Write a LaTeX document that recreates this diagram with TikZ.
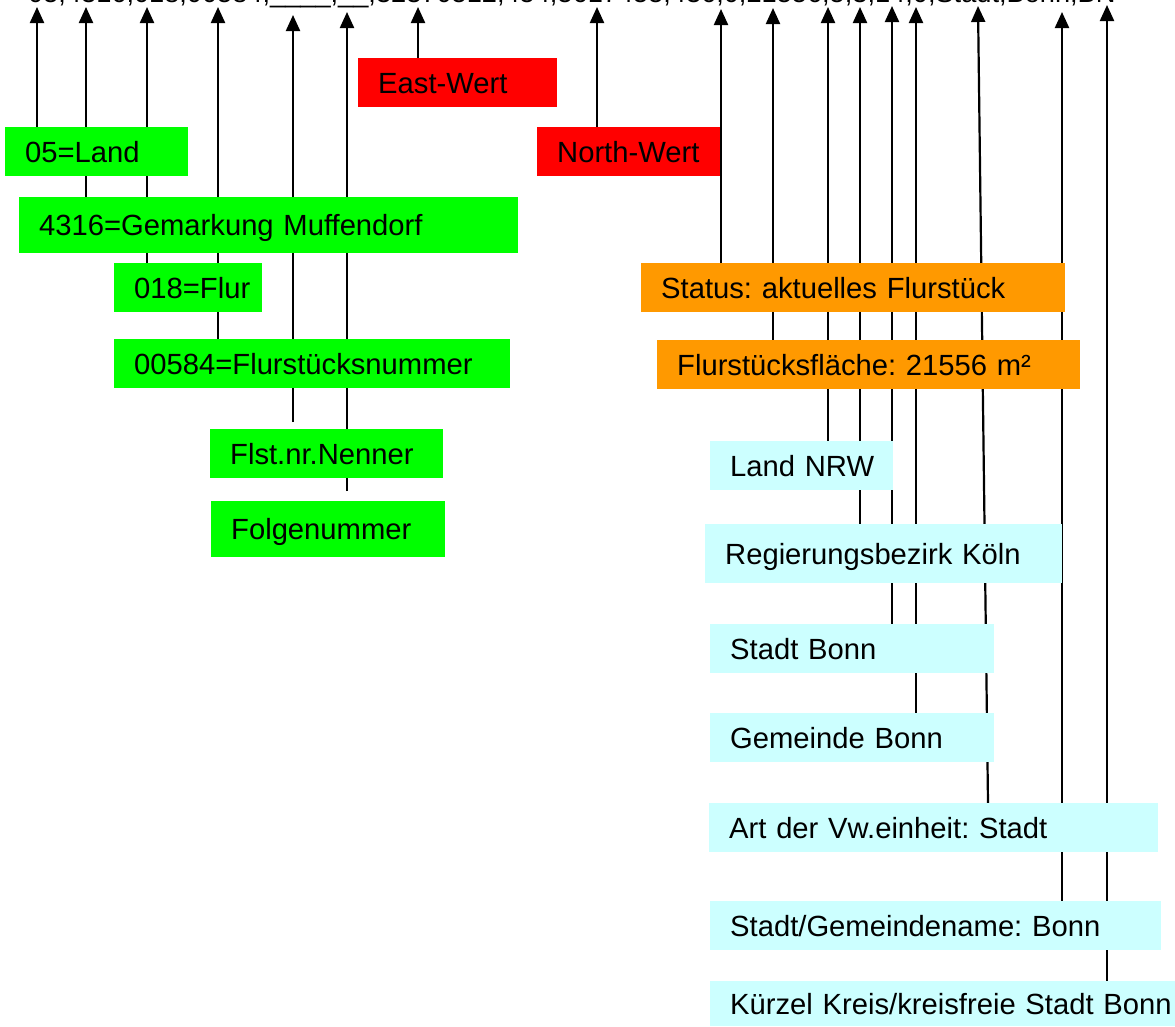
\documentclass[tikz,border=0pt]{standalone}
\usepackage{fontspec}
\setmainfont{Liberation Sans}
\usetikzlibrary{arrows.meta, backgrounds}
\frenchspacing

\definecolor{orangefeld}{HTML}{FF9900}
\definecolor{cyanfeld}{HTML}{CCFFFF}

\tikzset{
    feld/.style={anchor=north west, inner xsep=0pt, inner ysep=0pt, align=left,
        text height=21pt, text depth=0pt, minimum height=49pt,
        execute at begin node={\hspace*{20pt}},
        font=\fontsize{29.2}{34}\selectfont},
    gruen/.style={feld, fill=green},
    rot/.style={feld, fill=red},
    orange/.style={feld, fill=orangefeld},
    cyan/.style={feld, fill=cyanfeld},
    zeile/.style={anchor=base west, inner sep=0pt, font=\fontsize{27.2}{32}\selectfont},
    every edge/.append style={line width=2.2pt}
}

\begin{document}
\begin{tikzpicture}[->,>={Triangle[width=14pt,length=16pt]},x=1pt,y=-1pt]
                    \useasboundingbox (0,0) rectangle (1175,1026);
                    \begin{scope}
                    \clip (0,0) rectangle (1175,1026);
                    \node[zeile] (daten) at (28,2.5) {05,4316,018,00584,\_\_\_\_,\_\_,32370512,454,5617455,436,0,21556,5,3,14,0,Stadt,Bonn,BN};
                    \end{scope}

                    \coordinate (t1) at (37,7);
                    \coordinate (t2) at (86,7);
                    \coordinate (t3) at (147,7);
                    \coordinate (t4) at (218,7);
                    \coordinate (t5) at (293,15);
                    \coordinate (t6) at (347,12);
                    \coordinate (t7) at (418,7);
                    \coordinate (t8) at (597,7);
                    \coordinate (t9) at (721,9);
                    \coordinate (t10) at (773,8);
                    \coordinate (t11) at (828,7);
                    \coordinate (t12) at (860,7);
                    \coordinate (t13) at (892,6);
                    \coordinate (t14) at (916,7);
                    \coordinate (t15) at (978,6);
                    \coordinate (t16) at (1062,12);
                    \coordinate (t17) at (1107,5);

                    % Flurstueckskennzeichen
                    \node[rot, text width=199pt] (east) at (358,58) {East-Wert};
                    \node[gruen, text width=183pt] (land) at (5,127) {05=Land};
                    \node[rot, text width=183pt] (north) at (537,127) {North-Wert};
                    \node[gruen, text width=499pt, minimum height=56pt] (gemarkung) at (19,197) {4316=Gemarkung Muffendorf};
                    \node[gruen, text width=148pt] (flur) at (114,263) {018=Flur};
                    \node[gruen, text width=396pt] (nummer) at (114,339) {00584=Flurstücksnummer};
                    \node[gruen, text width=233pt] (nenner) at (210,429) {Flst.nr.Nenner};
                    \node[gruen, text width=234pt, minimum height=56pt] (folge) at (211,501) {Folgenummer};

                    % Flurstueck
                    \node[orange, text width=424pt] (status) at (641,263) {Status: aktuelles Flurstück};
                    \node[orange, text width=423pt] (flaeche) at (657,340) {Flurstücksfläche: 21556 m²};

                    % Verwaltung
                    \node[cyan, text width=183pt] (landnrw) at (710,441) {Land NRW};
                    \node[cyan, text width=357pt, minimum height=59pt] (regbez) at (705,524) {Regierungsbezirk Köln};
                    \node[cyan, text width=284pt] (stadt) at (710,624) {Stadt Bonn};
                    \node[cyan, text width=284pt] (gemeinde) at (710,713) {Gemeinde Bonn};
                    \node[cyan, text width=449pt] (art) at (709,803) {Art der Vw.einheit: Stadt};
                    \node[cyan, text width=451pt] (name) at (710,901) {Stadt/Gemeindename: Bonn};
                    \node[cyan, text width=465pt, minimum height=45pt] (kuerzel) at (710,981) {Kürzel Kreis/kreisfreie Stadt Bonn};

                    \begin{scope}[on background layer]
                    \path[line width=2.2pt]
                    (land.north -| t1) edge (t1)
                    (gemarkung.north -| t2) edge (t2)
                    (flur.north -| t3) edge (t3)
                    (nummer.north -| t4) edge (t4)
                    (nenner.north -| t5) edge [shorten <=7pt] (t5)
                    (folge.north -| t6) edge [shorten <=10pt] (t6)
                    (east.north -| t7) edge (t7)
                    (north.north -| t8) edge (t8)
                    (status.north -| t9) edge (t9)
                    (flaeche.north -| t10) edge (t10)
                    (landnrw.north -| t11) edge (t11)
                    (regbez.north -| t12) edge (t12)
                    (stadt.north -| t13) edge (t13)
                    (gemeinde.north -| t14) edge (t14)
                    ([xshift=279pt]art.north west) edge (t15)
                    (name.north -| t16) edge (t16)
                    (kuerzel.north -| t17) edge (t17)
                    ;
                    \end{scope}
                \end{tikzpicture}
\end{document}
